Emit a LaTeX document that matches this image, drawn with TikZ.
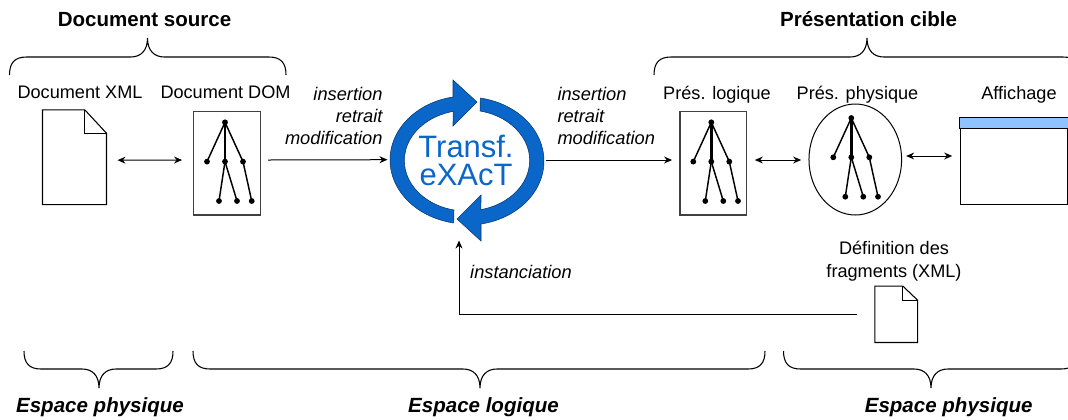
\documentclass[tikz,border=0pt]{standalone}
\usepackage{fontspec}
\setmainfont{Liberation Sans}
\usetikzlibrary{arrows.meta,shapes.geometric}
\definecolor{ringblue}{HTML}{0A66C8}
\definecolor{barblue}{HTML}{8FC3FF}
\tikzset{
	lbl/.style={font=\fontsize{13.6}{17}\selectfont,anchor=base},
	ital/.style={font=\fontsize{13.7}{16.5}\selectfont\itshape,inner sep=0pt},
	hdr/.style={font=\fontsize{15.4}{18}\selectfont\bfseries,anchor=base},
	hdrit/.style={font=\fontsize{15.4}{18}\selectfont\bfseries\itshape,anchor=base},
	treebox/.style={draw=black!75,line width=.9pt,inner sep=0pt,minimum width=50pt,minimum height=77.5pt},
	docbox/.style={inner sep=0pt},
	pics/dtree/.style={code={
		\foreach \ax/\ay/\bx/\by in {0/0/-18/39.3, 0/0/18/39.3, 0/39.3/-6/78.7, 0/39.3/12/78.7, 18/39.3/26.7/78.7}
			\draw[line width=1.1pt] (\ax,\ay) -- (\bx,\by);
		\draw[line width=1.9pt] (0,0) -- (0,39.3);
		\foreach \n in {(0,0), (-18,39.3), (0,39.3), (18,39.3), (-6,78.7), (12,78.7), (26.7,78.7)}
			\fill \n circle (2.9);
	}}
}
% page corner of a document icon: name, fold width, fold height
\newcommand{\docicon}[3]{
	\draw[line width=.8pt] (#1.north west) -- ([shift={(-#2,0)}]#1.north east) -- ([shift={(0,#3)}]#1.north east)
		-- (#1.south east) -- (#1.south west) -- cycle;
	\draw[line width=.8pt] ([shift={(-#2,0)}]#1.north east) -- ([shift={(-#2,#3)}]#1.north east) -- ([shift={(0,#3)}]#1.north east);
}
% curly bracket: left x, middle x, right x, y of the ends, direction
\newcommand{\curl}[5]{
	\draw[line width=.8pt] (#1,#4) .. controls (#1,#4-#5*12) and (#1+5,#4-#5*18) .. (#1+17,#4-#5*18)
		-- (#2-17,#4-#5*18) .. controls (#2-7,#4-#5*18) and (#2,#4-#5*24) .. (#2,#4-#5*37)
		.. controls (#2,#4-#5*24) and (#2+7,#4-#5*18) .. (#2+17,#4-#5*18)
		-- (#3-17,#4-#5*18) .. controls (#3-5,#4-#5*18) and (#3,#4-#5*12) .. (#3,#4);
}

\begin{document}
\begin{tikzpicture}[x=.75pt,y=-.75pt,>={Stealth[length=6pt,width=5.2pt]},line width=.75pt]
	\useasboundingbox (0,0) rectangle (1068,419);

	% headings
	\node[hdr] (docsrc) at (144.5,26) {Document source};
	\node[hdr] (prescib) at (868.5,26) {Présentation cible};
	\curl{9.5}{147.5}{286}{75}{1}
	\curl{654}{867}{1080}{75}{1}

	\node[lbl] (xmllbl) at (80,98.7) {Document XML};
	\node[lbl] (domlbl) at (225.5,98.7) {Document DOM};
	\node[lbl] (loglbl) at (717,99) {Prés. logique};
	\node[lbl] (phylbl) at (857.5,99) {Prés. physique};
	\node[lbl] (afflbl) at (1019,99) {Affichage};

	% left side
	\node[docbox,minimum width=47.25pt,minimum height=70.3pt] (docxml) at (74.5,157.2) {};
	\docicon{docxml}{21.7}{23.4}
	\node[treebox] (docdom) at (227,163.3) {};
	\pic at (225,122.3) {dtree};

	% ring
	\node[ellipse,inner sep=0pt,minimum width=115.5pt,minimum height=96pt,text=ringblue,
		font=\fontsize{23.2}{21}\selectfont,align=center] (transf) at (466,160.5) {Transf.\\eXAcT};
	\foreach \a in {0,180}
		\filldraw[fill=ringblue,draw=ringblue!55!black,line width=.4pt,rotate around={\a:(467,160.5)}]
			(477,102) -- (453,80) -- (453,97)
			arc[start angle=-100.5,end angle=-260,x radius=77,y radius=64]
			-- (454,210) arc[start angle=-258,end angle=-102.9,x radius=62.7,y radius=50.5]
			-- (453,126) -- cycle;

	% right side
	\node[treebox] (preslog) at (713.3,163.3) {};
	\pic at (711.3,122.3) {dtree};
	\node[draw,ellipse,inner sep=0pt,minimum width=69.5pt,minimum height=83.25pt] (presphy) at (855.3,159.5) {};
	\pic at (851.3,118) {dtree};
	\node[draw,inner sep=0pt,minimum width=80.4pt,minimum height=64.3pt] (affich) at (1013.9,161.2) {};
	\draw[fill=barblue] (affich.north west) rectangle ([shift={(0,11)}]affich.north east);

	\node[docbox,minimum width=31.3pt,minimum height=41.5pt] (fragdoc) at (896.2,314.3) {};
	\docicon{fragdoc}{14.7}{14}
	\node[font=\fontsize{13.6}{17.5}\selectfont,align=center,inner sep=0pt] (fraglbl) at (894,261.5) {Définition des\\fragments (XML)};

	% arrows
	\draw[<->] ([shift={(11,3)}]docxml.east) -- ([shift={(-11,-3.3)}]docdom.west);
	\draw[->] ([shift={(7.3,-3.3)}]docdom.east) -- ([shift={(-1,-.8)}]transf.west);
	\draw[->] ([shift={(2,-.5)}]transf.east) -- ([shift={(-7.3,-3.3)}]preslog.west);
	\draw[<->] ([shift={(7.6,-3.3)}]preslog.east) -- ([shift={(-7.3,.5)}]presphy.west);
	\draw[<->] ([shift={(4,-3.5)}]presphy.east) -- ([shift={(-7.6,-5.2)}]affich.west);
	\draw[->] ([xshift=-13.5pt]fragdoc.west) -| ([shift={(-7,15.5)}]transf.south);

	% labels of the arrows
	\node[ital,align=right,anchor=east] (insl) at (383,115.5) {insertion\\retrait\\modification};
	\node[ital,align=left,anchor=west] (insr) at (557,115.5) {insertion\\retrait\\modification};
	\node[ital,anchor=base] (inst) at (521,278) {instanciation};

	% bottom
	\curl{24}{99}{173}{351}{-1}
	\curl{193}{480}{765}{351}{-1}
	\curl{783.5}{931}{1078}{351}{-1}
	\node[hdrit] (esp1) at (100,412) {Espace physique};
	\node[hdrit] (esp2) at (483.5,412) {Espace logique};
	\node[hdrit] (esp3) at (948.7,412) {Espace physique};
\end{tikzpicture}
\end{document}
